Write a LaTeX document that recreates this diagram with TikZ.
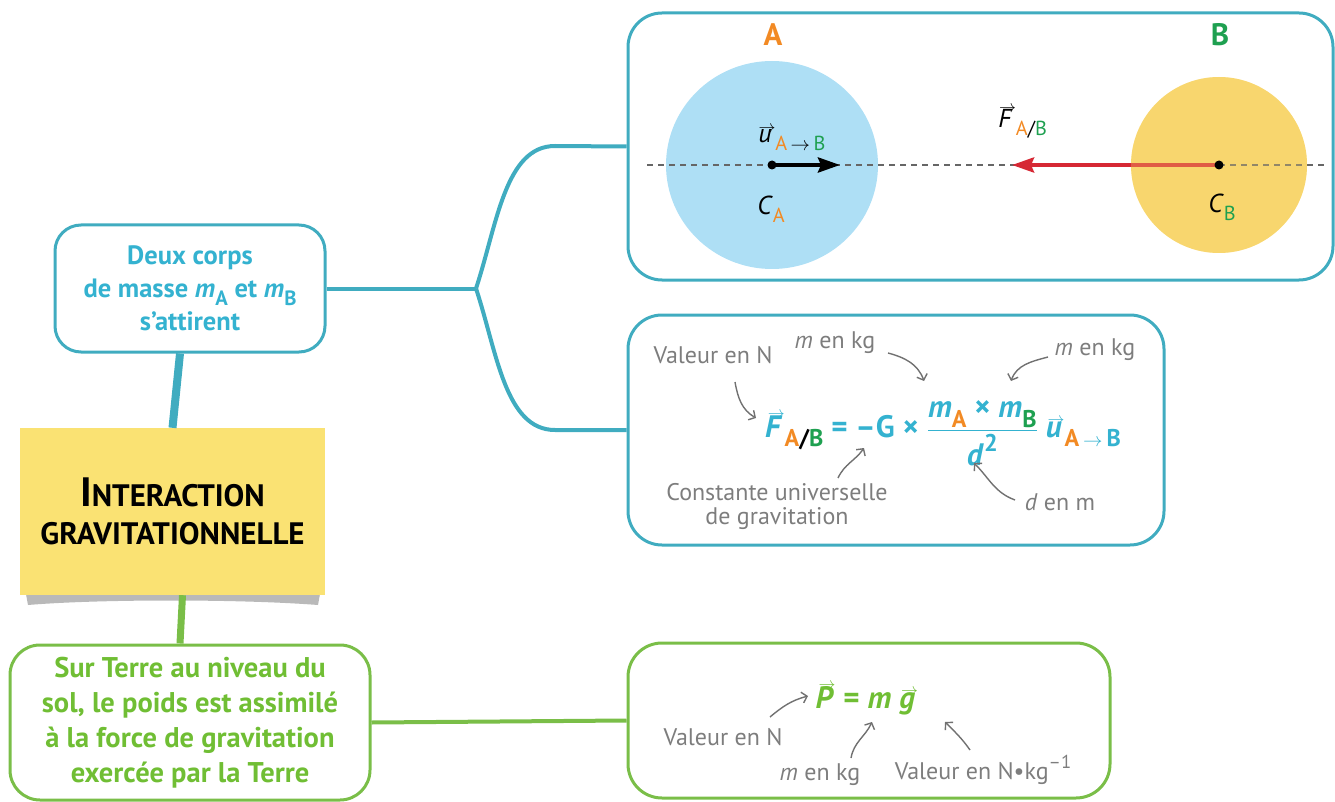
\documentclass[tikz,border=0pt]{standalone}
\usepackage{amsmath}
\usepackage{fontspec}
\setmainfont{PT Sans}
\usetikzlibrary{arrows.meta}

\definecolor{tealline}{RGB}{64,172,192}
\definecolor{tealtext}{RGB}{52,178,208}
\definecolor{greenline}{RGB}{122,190,72}
\definecolor{greentext}{RGB}{112,190,52}
\definecolor{notepaper}{RGB}{250,226,115}
\definecolor{notefold}{RGB}{185,185,185}
\definecolor{bodyA}{RGB}{174,223,245}
\definecolor{bodyB}{RGB}{248,214,110}
\definecolor{orangeA}{RGB}{242,138,36}
\definecolor{greenB}{RGB}{30,160,80}
\definecolor{forcered}{RGB}{214,40,52}
\definecolor{legend}{RGB}{125,125,125}

\newcommand{\lo}[1]{\raisebox{-0.3em}{\scalebox{0.78}{#1}}}
\newcommand{\hi}[1]{\raisebox{0.45em}{\scalebox{0.78}{#1}}}
\newcommand{\vect}[1]{\leavevmode\vbox{\offinterlineskip\halign{\hfil##\hfil\cr
  \hspace{0.15em}\scalebox{0.68}[0.7]{$\rightarrow$}\cr\noalign{\kern-0.1em}\textit{#1}\cr}}}
\newcommand{\colA}{{\color{orangeA}A}}
\newcommand{\colB}{{\color{greenB}B}}

\tikzset{
  tealbox/.style={draw=tealline, line width=3pt, rounded corners=26pt, inner sep=0pt,
    text=tealtext, align=center, font=\fontsize{26.5}{33}\selectfont\bfseries},
  greenbox/.style={draw=greenline, line width=3pt, rounded corners=30pt, inner sep=0pt,
    text=greentext, align=center, font=\fontsize{28.5}{35}\selectfont\bfseries},
  notebox/.style={fill=notepaper, inner sep=0pt, align=center,
    font=\fontsize{31}{38}\selectfont\bfseries},
  tealframe/.style={draw=tealline, line width=3pt, rounded corners=34pt, inner sep=0pt},
  greenframe/.style={draw=greenline, line width=3pt, rounded corners=34pt, inner sep=0pt},
  link/.style={draw=tealline, line width=4pt},
  greenlink/.style={draw=greenline, line width=4pt},
  trunkteal/.style={draw=tealline, line width=8pt},
  trunkgreen/.style={draw=greenline, line width=7pt},
  bodyname/.style={font=\fontsize{31}{31}\selectfont\bfseries, inner sep=0pt},
  veclabel/.style={font=\fontsize{26}{26}\selectfont, inner sep=0pt},
  eqteal/.style={text=tealtext, font=\fontsize{31}{33}\selectfont\bfseries, inner sep=0pt},
  eqgreen/.style={text=greentext, font=\fontsize{31}{33}\selectfont\bfseries, inner sep=0pt},
  legendtext/.style={text=legend, font=\fontsize{24}{24}\selectfont, inner sep=0pt},
  annot/.style={draw=legend!90!black, line width=1.4pt, -{Straight Barb[length=5pt,width=11pt]}},
  axisline/.style={draw=black!60, line width=1.1pt, dash pattern=on 6pt off 5pt},
  uvec/.style={draw=black, line width=4pt, -{Stealth[length=22pt,width=15pt,inset=3pt]}},
  Fvec/.style={draw=forcered, line width=4pt, -{Stealth[length=22pt,width=15pt,inset=3pt]}}
}

\begin{document}
\begin{tikzpicture}[x=1pt,y=-1pt]
\useasboundingbox (0,0) rectangle (1335,802);

\fill[notefold] (26,594) -- (320,594) -- (318,605) .. controls (240,599) and (100,599) .. (28,605) -- cycle;

\node[tealbox, minimum width=270, minimum height=127] (deux) at (190,288.5)
  {Deux corps\\de masse \textit{m}\lo{A} et \textit{m}\lo{B}\\s’attirent};
\node[notebox, minimum width=305, minimum height=167] (central) at (172.5,511.5)
  {{\fontsize{41}{38}\selectfont I}NTERACTION\\GRAVITATIONNELLE};
\node[greenbox, minimum width=360, minimum height=155] (terre) at (190,722.5)
  {Sur Terre au niveau du\\sol, le poids est assimilé\\à la force de gravitation\\exercée par la Terre};

\node[tealframe, minimum width=705, minimum height=267] (schema) at (980.5,146.5) {};
\node[tealframe, minimum width=536, minimum height=230] (formule) at (896,430) {};
\node[greenframe, minimum width=482, minimum height=155] (poids) at (869,720.5) {};

\coordinate (fork) at (476,288.5);
\draw[link] (deux.east) -- (fork);
\draw[link] (fork) .. controls (497,225) and (505,146) .. (555,146) -- (schema.west);
\draw[link] (fork) .. controls (497,352) and (505,430) .. (555,430) -- (formule.west);
\draw[trunkteal] ([xshift=-10pt]deux.south) -- (central.north);
\draw[trunkgreen] ([xshift=10pt]central.south) -- ([xshift=-10pt]terre.north);
\draw[greenlink] (terre.east) -- (poids.west);

\coordinate (CA) at (772,165);
\coordinate (CB) at (1219,165);
\coordinate (axL) at (647,165);
\coordinate (axR) at (1328,165);
\coordinate (utip) at (840,165);
\coordinate (Ftip) at (1012,165);
\fill[bodyA] (CA) ellipse [x radius=106, y radius=104];
\fill[bodyB] (CB) circle [radius=88];
\draw[axisline] (axL) -- (axR);
\draw[uvec] (CA) -- (utip);
\draw[Fvec] (CB) -- (Ftip);
\fill[bodyB, opacity=0.3] (CB) circle [radius=88];
\fill (CA) circle [radius=4.5];
\fill (CB) circle [radius=4.5];

\node[bodyname, text=orangeA] (nameA) at (773,35) {A};
\node[bodyname, text=greenB] (nameB) at (1220,35) {B};
\node[veclabel, anchor=base] (labu) at (790,143) {\vect{u}\lo{\colA\,$\rightarrow$\,\colB}};
\node[veclabel, anchor=base] (labF) at (1021,128) {\vect{F}\lo{\colA/\colB}};
\node[veclabel, anchor=base] (labCA) at (771,215) {\textit{C}\lo{\colA}};
\node[veclabel, anchor=base] (labCB) at (1222,213) {\textit{C}\lo{\colB}};

\node[eqteal, anchor=base] (eqF) at (942,437)
  {\vect{F}\lo{\colA{\color{black}/}\colB} = –G × $\displaystyle\frac{\text{\textit{m}\lo{\colA} × \textit{m}\lo{\colB}}}{\text{\textit{d}\hi{2}}}$\,\vect{u}\lo{\colA\,$\rightarrow$\,B}};
\node[legendtext] (valN) at (713,355) {Valeur en N};
\node[legendtext] (mkgA) at (835,343) {\textit{m} en kg};
\node[legendtext] (mkgB) at (1095,350) {\textit{m} en kg};
\node[legendtext, align=center] (constG) at (777,506) {Constante universelle\\de gravitation};
\node[legendtext] (dm) at (1060,502) {\textit{d} en m};

\coordinate (a1) at (735,382);
\coordinate (t1) at (756,418);
\coordinate (a2) at (888,353);
\coordinate (t2) at (924,381);
\coordinate (a3) at (1048,357);
\coordinate (t3) at (1011,381);
\coordinate (a4) at (838,478);
\coordinate (t4) at (864,448);
\coordinate (a5) at (1015,500);
\coordinate (t5) at (974,463);
\draw[annot] (a1) to[out=-80,in=150] (t1);
\draw[annot] (a2) to[out=-15,in=110] (t2);
\draw[annot] (a3) to[out=195,in=70] (t3);
\draw[annot] (a4) to[out=65,in=-125] (t4);
\draw[annot] (a5) to[out=160,in=-45] (t5);

\node[eqgreen, anchor=base] (eqP) at (866,708) {\vect{P} = \textit{m}\,\vect{g}};
\node[legendtext] (valN2) at (723,737) {Valeur en N};
\node[legendtext] (mkgP) at (820,775) {\textit{m} en kg};
\node[legendtext] (valNkg) at (983,770) {Valeur en N\textbullet kg\hi{–1}};

\coordinate (b1) at (770,717);
\coordinate (s1) at (808,696);
\coordinate (b2) at (851,758);
\coordinate (s2) at (872,722);
\coordinate (b3) at (970,750);
\coordinate (s3) at (945,722);
\draw[annot] (b1) to[out=40,in=195] (s1);
\draw[annot] (b2) to[out=80,in=-115] (s2);
\draw[annot] (b3) to[out=125,in=-45] (s3);
\end{tikzpicture}
\end{document}
